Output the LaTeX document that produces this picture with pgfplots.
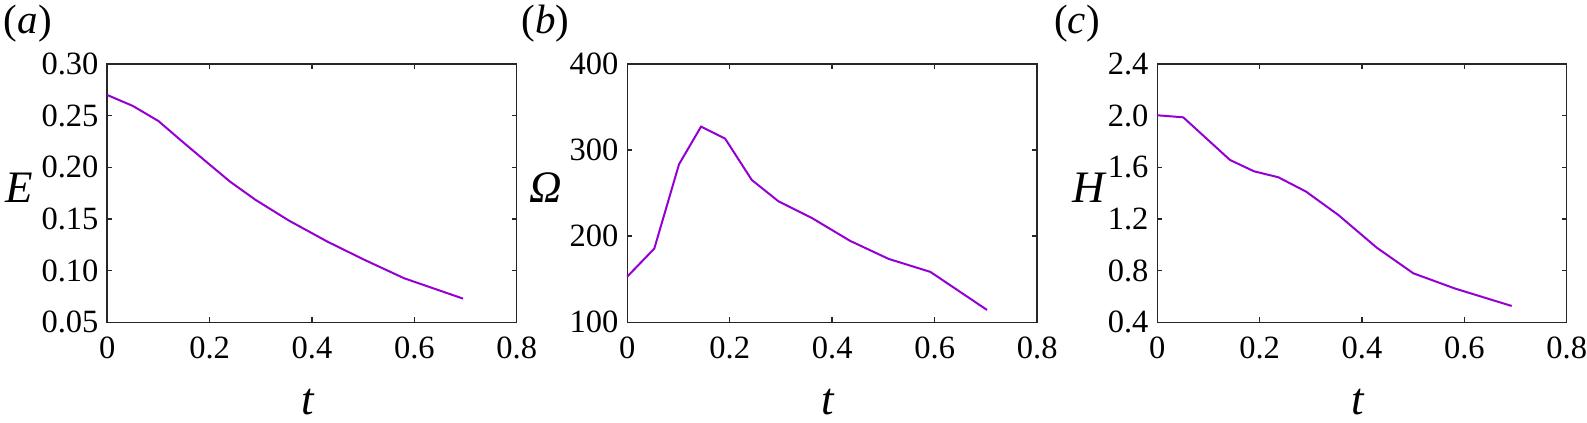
\documentclass[border=0pt]{standalone}
\usepackage{pgfplots}
\pgfplotsset{compat=1.18}
\usepackage{fontspec}
\setmainfont{Liberation Serif}
\definecolor{dviolet}{RGB}{148,0,211}
\pgfplotsset{
  panel/.style={
    scale only axis, width=163.8pt, height=103.3pt,
    anchor=south west,
    axis line style={black!85, line width=0.6pt},
    tick style={black!85, line width=0.6pt},
    tick align=inside, major tick length=2pt,
    xtick pos=both, ytick pos=both,
    xmin=0, xmax=0.8, xtick={0,0.2,0.4,0.6,0.8},
    /pgf/number format/assume math mode=true,
    xticklabel={\pgfmathprintnumber{\tick}},
    yticklabel={\pgfmathprintnumber{\tick}},
    tick label style={font=\rmfamily\fontsize{13}{14}\selectfont},
    xticklabel style={yshift=-2.5pt},
    label style={font=\rmfamily\fontsize{18}{21}\selectfont},
    xlabel={\textit{t}},
    xlabel style={at={(axis description cs:0.49,-0.31)}, anchor=center},
    ylabel style={rotate=-90, anchor=center},
    clip=false,
  },
}
\begin{document}
\begin{tikzpicture}
\useasboundingbox (0,0) rectangle (634.8pt,168.8pt);
% (a)
\begin{axis}[panel, at={(42.9pt,39.9pt)},
  ymin=0.05, ymax=0.30, ytick={0.05,0.10,0.15,0.20,0.25,0.30},
  yticklabel style={/pgf/number format/.cd, fixed, fixed zerofill, precision=2},
  ylabel={\textit{E}},
  ylabel style={at={(axis description cs:-0.215,0.52)}}]
\addplot[dviolet, line width=0.8pt] coordinates {
(0,0.270) (0.05,0.2594) (0.10,0.2448) (0.145,0.2256) (0.19,0.2068)
(0.24,0.1861) (0.29,0.1684) (0.355,0.1484) (0.43,0.1281) (0.50,0.1110)
(0.58,0.0926) (0.695,0.0729)};
\node[font=\rmfamily\fontsize{16.4}{18}\selectfont, anchor=center] at (axis description cs:-0.194,1.157) {(\textit{a})};
\end{axis}
% (b)
\begin{axis}[panel, at={(250.9pt,39.9pt)}, width=164pt,
  ymin=100, ymax=400, ytick={100,200,300,400},
  ylabel={\textit{Ω}},
  ylabel style={at={(axis description cs:-0.198,0.52)}}]
\addplot[dviolet, line width=0.8pt] coordinates {
(0,153.0) (0.0528,185.6) (0.101,283.5) (0.144,327.3) (0.191,313.3)
(0.243,265.3) (0.295,240.5) (0.360,221.2) (0.435,194.5) (0.510,173.6)
(0.5915,158.5) (0.702,114.3)};
\node[font=\rmfamily\fontsize{16.4}{18}\selectfont, anchor=center] at (axis description cs:-0.2,1.157) {(\textit{b})};
\end{axis}
% (c)
\begin{axis}[panel, at={(462.9pt,39.9pt)},
  ymin=0.4, ymax=2.4, ytick={0.4,0.8,1.2,1.6,2.0,2.4},
  yticklabel style={/pgf/number format/.cd, fixed, fixed zerofill, precision=1},
  ylabel={\textit{H}},
  ylabel style={at={(axis description cs:-0.165,0.52)}}]
\addplot[dviolet, line width=0.8pt] coordinates {
(0,2.003) (0.0508,1.987) (0.142,1.657) (0.189,1.569) (0.2365,1.523)
(0.2906,1.412) (0.3537,1.231) (0.4287,0.978) (0.5003,0.779) (0.5818,0.661)
(0.6925,0.526)};
\node[font=\rmfamily\fontsize{16.4}{18}\selectfont, anchor=center] at (axis description cs:-0.196,1.157) {(\textit{c})};
\end{axis}
\end{tikzpicture}
\end{document}
